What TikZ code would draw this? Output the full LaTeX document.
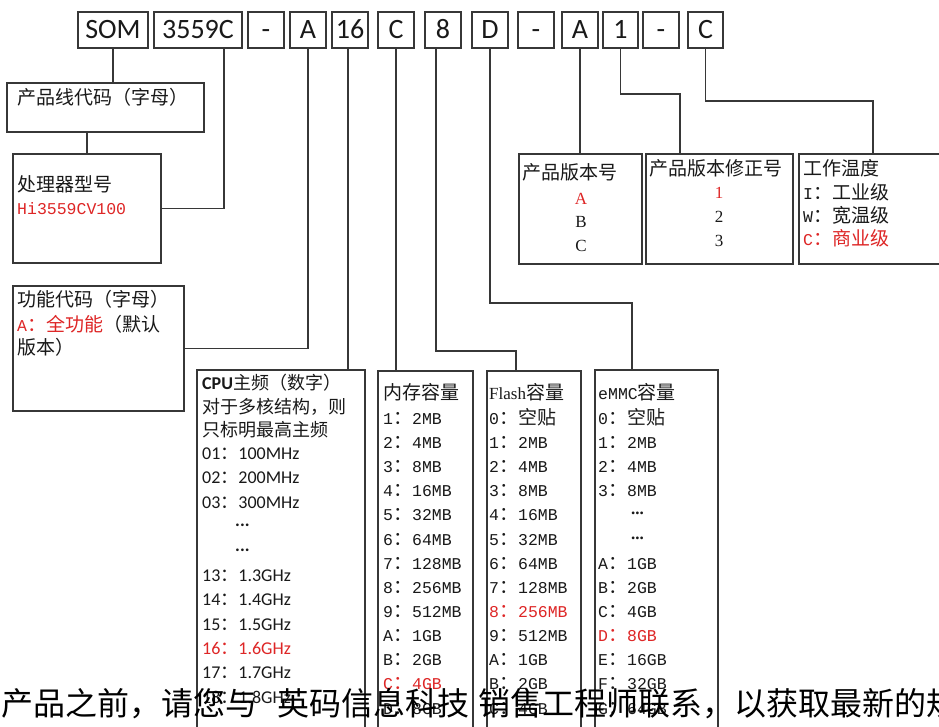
\documentclass[tikz,border=0pt]{standalone}
\usepackage{fontspec}
\setmainfont{Liberation Mono}
\newfontfamily\cjk{Noto Sans CJK SC}
\newfontfamily\calfont{Carlito}
\newfontfamily\serfont{Liberation Serif}
\definecolor{lnc}{RGB}{55,55,55}
\definecolor{rdc}{RGB}{222,38,38}
\definecolor{txc}{RGB}{25,25,25}
\newcommand\cc[1]{{\cjk\fontsize{19}{19}\selectfont #1}}
\newcommand\cs[1]{{\cjk\fontsize{18}{18}\selectfont #1}}
\tikzset{
  bx/.style={draw=lnc, line width=1.4pt, anchor=north west, inner sep=0pt, outer sep=0pt},
  conn/.style={draw=lnc, line width=1.4pt},
  tb/.style={font=\calfont\fontsize{28}{28}\selectfont, text=txc, text height=17.6pt, text depth=0pt},
  lt/.style={anchor=base west, inner sep=0pt, text=txc, font=\fontsize{16.5}{19}\selectfont},
  ct/.style={anchor=base, inner sep=0pt, text=txc, font=\serfont\fontsize{17}{19}\selectfont},
  cpt/.style={anchor=base west, inner sep=0pt, text=txc, font=\calfont\fontsize{18}{18}\selectfont},
  hl/.style={text=rdc}
}
\begin{document}
\begin{tikzpicture}[x=1pt,y=-1pt]
\useasboundingbox (0,0) rectangle (939,727);
\clip (0,0) rectangle (939,727);
\fill[white] (0,0) rectangle (939,727);

% top code boxes
\foreach \n/\a/\b/\t in {som/78/148/SOM, b3559/154/242/3559C, d1/248/284/-, bA/290/326/A, b16/332/368/16, bC/378/414/C, b8/425/461/8, bD/472/508/D, d2/518/554/-, bA2/562/598/A, b1/603/638/1, d3/643/679/-, bC2/688/723/C}
  \node[bx,tb,minimum width={\b-\a},minimum height=36] (\n) at (\a,12) {\t};

% description boxes
\node[bx,minimum width=197,minimum height=49] (plc) at (7,83) {};
\node[bx,minimum width=148,minimum height=109] (proc) at (13,154) {};
\node[bx,minimum width=171,minimum height=125] (func) at (13,286) {};
\node[bx,minimum width=168,minimum height=400] (cpu) at (197,370) {};
\node[bx,minimum width=95,minimum height=400] (mem) at (378,371) {};
\node[bx,minimum width=94,minimum height=400] (flash) at (487,371) {};
\node[bx,minimum width=123,minimum height=400] (emmc) at (595,370) {};
\node[bx,minimum width=123,minimum height=110] (ver) at (519,154) {};
\node[bx,minimum width=147,minimum height=110] (rev) at (646,154) {};
\node[bx,minimum width=170,minimum height=110] (temp) at (799,154) {};

% connectors
\draw[conn] (som.south) -- (som.south |- plc.north);
\draw[conn] (proc.north |- plc.south) -- (proc.north);
\draw[conn] ([xshift=26pt]b3559.south) |- (proc.east);
\draw[conn] (bA.south) |- (func.east);
\coordinate (c16) at ([xshift=-2pt]b16.south);
\draw[conn] (c16) -- (c16 |- cpu.north);
\draw[conn] (bC.south) -- (bC.south |- mem.north);
\draw[conn] ([xshift=-7pt]b8.south) -- ++(0,303) -| ([xshift=-18pt]flash.north);
\draw[conn] (bD.south) -- ++(0,255) -| ([xshift=-24.5pt]emmc.north);
\draw[conn] (bA2.south) -- (bA2.south |- ver.north);
\draw[conn] (b1.south) -- ++(0,46) -| ([xshift=-39.5pt]rev.north);
\draw[conn] (bC2.south) -- ++(0,53) -| ([xshift=-11pt]temp.north);

% left texts
\node[lt] (tplc) at (17,104.8) {\cc{产品线代码（字母）}};
\node[lt] (tproc1) at (17,191.8) {\cc{处理器型号}};
\node[lt,hl] (tproc2) at (17,214.5) {Hi3559CV100};
\node[lt] (tf1) at (17,306.8) {\cc{功能代码（字母）}};
\node[lt] (tf2) at (17,331.5) {\textcolor{rdc}{A\cc{：全功能}}\cc{（默认}};
\node[lt] (tf3) at (17,354.8) {\cc{版本）}};

% CPU column
\node[cpt] (cpu0) at (202,389.3) {\textbf{CPU}\cs{主频（数字）}};
\node[cpt] (cpu1) at (202,413.3) {\cs{对于多核结构，则}};
\node[cpt] (cpu2) at (202,436.3) {\cs{只标明最高主频}};
\foreach \k/\v/\f in {0/01/100MHz,1/02/200MHz,2/03/300MHz,5/13/1.3GHz,6/14/1.4GHz,7/15/1.5GHz,9/17/1.7GHz,10/18/1.8GHz}
  \node[cpt] (cpuf\v) at (202,{459.3+24.4*\k}) {\v\cs{：}\f};
\node[cpt,hl] (cpuf16) at (202,{459.3+24.4*8}) {16\cs{：}1.6GHz};
\node[cpt,font=\calfont\bfseries\fontsize{18}{18}\selectfont] (cpud1) at (235,526) {...};
\node[cpt,font=\calfont\bfseries\fontsize{18}{18}\selectfont] (cpud2) at (235,551) {...};

% memory column
\node[lt] (memh) at (383,399.8) {\cc{内存容量}};
\foreach \k/\v/\f in {0/1/2MB,1/2/4MB,2/3/8MB,3/4/16MB,4/5/32MB,5/6/64MB,6/7/128MB,7/8/256MB,8/9/512MB,9/A/1GB,10/B/2GB,12/D/8GB}
  \node[lt] (mem\k) at (383,{424.3+24.15*\k}) {\v\cc{：}\f};
\node[lt,hl] (mem11) at (383,{424.3+24.15*11}) {C\cc{：}4GB};

% flash column
\node[lt] (flh) at (489,399.8) {{\serfont\fontsize{17}{19}\selectfont Flash}\cc{容量}};
\node[lt] (fl0) at (489,424.3) {0\cc{：空贴}};
\foreach \k/\v/\f in {1/1/2MB,2/2/4MB,3/3/8MB,4/4/16MB,5/5/32MB,6/6/64MB,7/7/128MB,9/9/512MB,10/A/1GB,11/B/2GB,12/C/4GB}
  \node[lt] (fl\k) at (489,{424.3+24.15*\k}) {\v\cc{：}\f};
\node[lt,hl] (fl8) at (489,{424.3+24.15*8}) {8\cc{：}256MB};

% eMMC column
\node[lt] (emh) at (598,399.8) {eMMC\cc{容量}};
\node[lt] (em0) at (598,424.3) {0\cc{：空贴}};
\foreach \k/\v/\f in {1/1/2MB,2/2/4MB,3/3/8MB,6/A/1GB,7/B/2GB,8/C/4GB,10/E/16GB,11/F/32GB,12/G/64GB}
  \node[lt] (em\k) at (598,{424.3+24.15*\k}) {\v\cc{：}\f};
\node[lt,hl] (em9) at (598,{424.3+24.15*9}) {D\cc{：}8GB};
\node[lt,font=\serfont\bfseries\fontsize{17}{19}\selectfont] (emd1) at (631,514) {...};
\node[lt,font=\serfont\bfseries\fontsize{17}{19}\selectfont] (emd2) at (631,539) {...};

% right boxes texts
\node[lt] (verh) at (522,179.8) {\cc{产品版本号}};
\node[ct,hl] (verA) at (581,204.5) {A};
\node[ct] (verB) at (581,227.5) {B};
\node[ct] (verC) at (581,251.5) {C};
\node[lt] (revh) at (649,175.8) {\cc{产品版本修正号}};
\node[ct,hl] (rev1) at (719,198.5) {1};
\node[ct] (rev2) at (719,222.5) {2};
\node[ct] (rev3) at (719,246.5) {3};
\node[lt] (temph) at (803,175.8) {\cc{工作温度}};
\node[lt] (tempI) at (803,199.8) {I\cc{：工业级}};
\node[lt] (tempW) at (803,222.8) {W\cc{：宽温级}};
\node[lt,hl] (tempC) at (803,245.8) {C\cc{：商业级}};

% bottom overlapping sentence
\node[anchor=base west, inner sep=0pt, text=black, font=\cjk\fontsize{32}{32}\selectfont] (note) at (1.5,715) {产品之前，请您与\hspace{20pt}英码信息科技\hspace{9pt}销售工程师联系，以获取最新的规};
\end{tikzpicture}
\end{document}
